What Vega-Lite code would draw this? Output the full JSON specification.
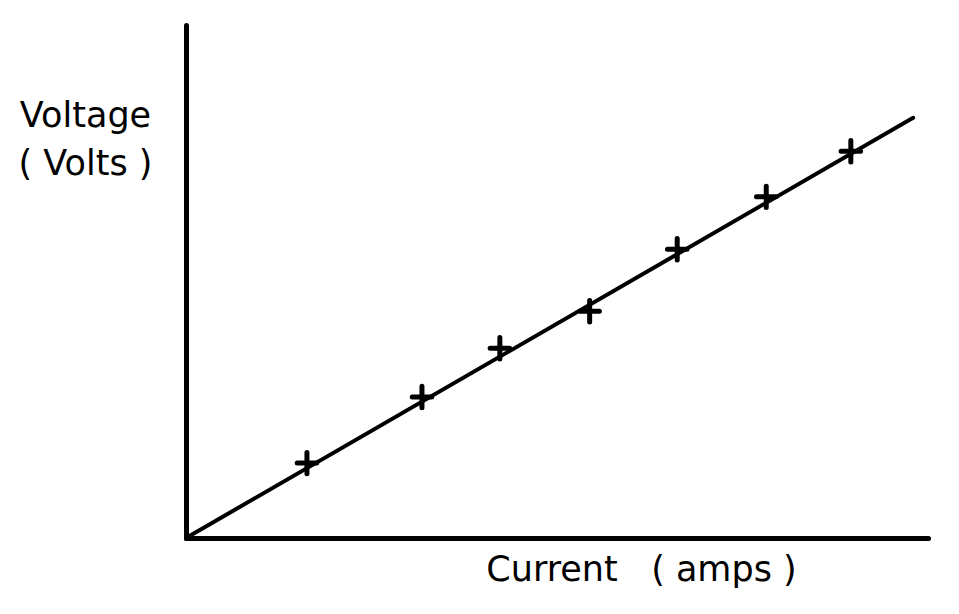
{
  "$schema": "https://vega.github.io/schema/vega-lite/v6.json",
  "width": 742,
  "height": 513,
  "autosize": "none",
  "padding": {"left": 186, "top": 25, "right": 31, "bottom": 76},
  "background": "white",
  "config": {"view": {"stroke": null}},
  "datasets": {
    "fit": [{"current": 0, "voltage": 0}, {"current": 98.0, "voltage": 81.9}],
    "points": [
      {"current": 16.3, "voltage": 14.6},
      {"current": 31.8, "voltage": 27.5},
      {"current": 42.3, "voltage": 37.0},
      {"current": 54.4, "voltage": 44.2},
      {"current": 66.2, "voltage": 56.3},
      {"current": 78.2, "voltage": 66.5},
      {"current": 89.6, "voltage": 75.4}
    ]
  },
  "encoding": {
    "x": {"field": "current", "type": "quantitative", "scale": {"domain": [0, 100], "nice": false},
      "axis": {"title": "Current\u00a0\u00a0\u00a0( amps )", "grid": false, "ticks": false, "labels": false,
        "domainColor": "black", "domainWidth": 5, "domainCap": "round",
        "titleFont": "DejaVu Sans", "titleFontSize": 35, "titleFontWeight": "normal", "titleColor": "black",
        "titleX": 455, "titleY": 31, "titleBaseline": "middle", "titleAlign": "center"}},
    "y": {"field": "voltage", "type": "quantitative", "scale": {"domain": [0, 100], "nice": false},
      "axis": {"title": ["Voltage", "( Volts )"], "grid": false, "ticks": false, "labels": false,
        "domainColor": "black", "domainWidth": 5, "domainCap": "round",
        "titleFont": "DejaVu Sans", "titleFontSize": 35, "titleFontWeight": "normal", "titleColor": "black",
        "titleAngle": 0, "titleX": -101, "titleY": 90, "titleBaseline": "middle", "titleAlign": "center", "titleLineHeight": 48}}
  },
  "layer": [
    {"data": {"name": "fit"}, "mark": {"type": "line", "color": "black", "strokeWidth": 4, "strokeCap": "round"}},
    {"data": {"name": "points"}, "mark": {"type": "point", "shape": "M-1,0L1,0M0,-1.1L0,1.1", "color": "black", "strokeWidth": 5, "size": 380, "opacity": 1, "strokeCap": "round"}}
  ]
}
